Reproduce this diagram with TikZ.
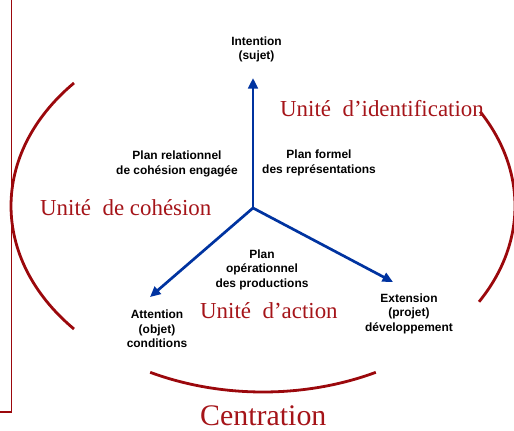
\documentclass[tikz,border=0pt]{standalone}
\usepackage{fontspec}
\setmainfont{Liberation Serif}
\newfontfamily\labelfont{Liberation Sans}
\usetikzlibrary{arrows.meta}
\definecolor{arcred}{RGB}{155,8,12}
\definecolor{textred}{RGB}{165,20,25}
\definecolor{axisblue}{RGB}{0,51,160}
\begin{document}
\begin{tikzpicture}[x=1bp,y=1bp,
  unit/.style={text=textred, font=\fontsize{23}{27}\selectfont, inner sep=0, anchor=base west},
  pole/.style={align=center, inner sep=0, font=\labelfont\bfseries\fontsize{12}{14.5}\selectfont},
  axis/.style={draw=axisblue, line width=2.7bp, line cap=round, -{Triangle[width=9.5bp,length=10.5bp]}},
  band/.style={draw=arcred, line width=2.8bp},
]
\useasboundingbox (0,0) rectangle (514,430);

% thin frame on the left edge
\draw[arcred, line width=1.2bp] (-10,18) rectangle (11.5,430.5);

% the broken ellipse around the three units
\coordinate (c) at (263,224);
\draw[band] ([shift={(138.6:252bp and 186bp)}]c) arc[start angle=138.6, end angle=221.4, x radius=252bp, y radius=186bp];
\draw[band] ([shift={(243.4:252bp and 186bp)}]c) arc[start angle=243.4, end angle=296.6, x radius=252bp, y radius=186bp];
\draw[band] ([shift={(-31:252bp and 186bp)}]c) arc[start angle=-31, end angle=30.5, x radius=252bp, y radius=186bp];

% the three axes
\coordinate (o) at (253,222);
\coordinate (tipI) at (253,352);
\coordinate (tipA) at (150,133);
\coordinate (tipE) at (393,148);
\draw[axis] (o) -- (tipI);
\draw[axis] (o) -- (tipA);
\draw[axis] (o) -- (tipE);

% poles and planes
\node[pole] (intention) at (256.5,380.5) {Intention\\(sujet)};
\node[pole] (relationnel) at (177,266) {Plan relationnel\\de cohésion engagée};
\node[pole] (formel) at (319,267) {Plan formel\\des représentations};
\node[pole] (operationnel) at (262,160.5) {Plan\\opérationnel\\des productions};
\node[pole] (attention) at (157,101) {Attention\\(objet)\\conditions};
\node[pole] (extension) at (409,116.5) {Extension\\(projet)\\développement};

% units
\node[unit] (identification) at (280,314) {Unité\ \ d’identification};
\node[unit] (cohesion) at (40,215) {Unité\ \ de cohésion};
\node[unit] (action) at (200,112) {Unité\ \ d’action};
\node[unit, font=\fontsize{30}{34}\selectfont] (centration) at (200,5) {Centration};
\end{tikzpicture}
\end{document}
